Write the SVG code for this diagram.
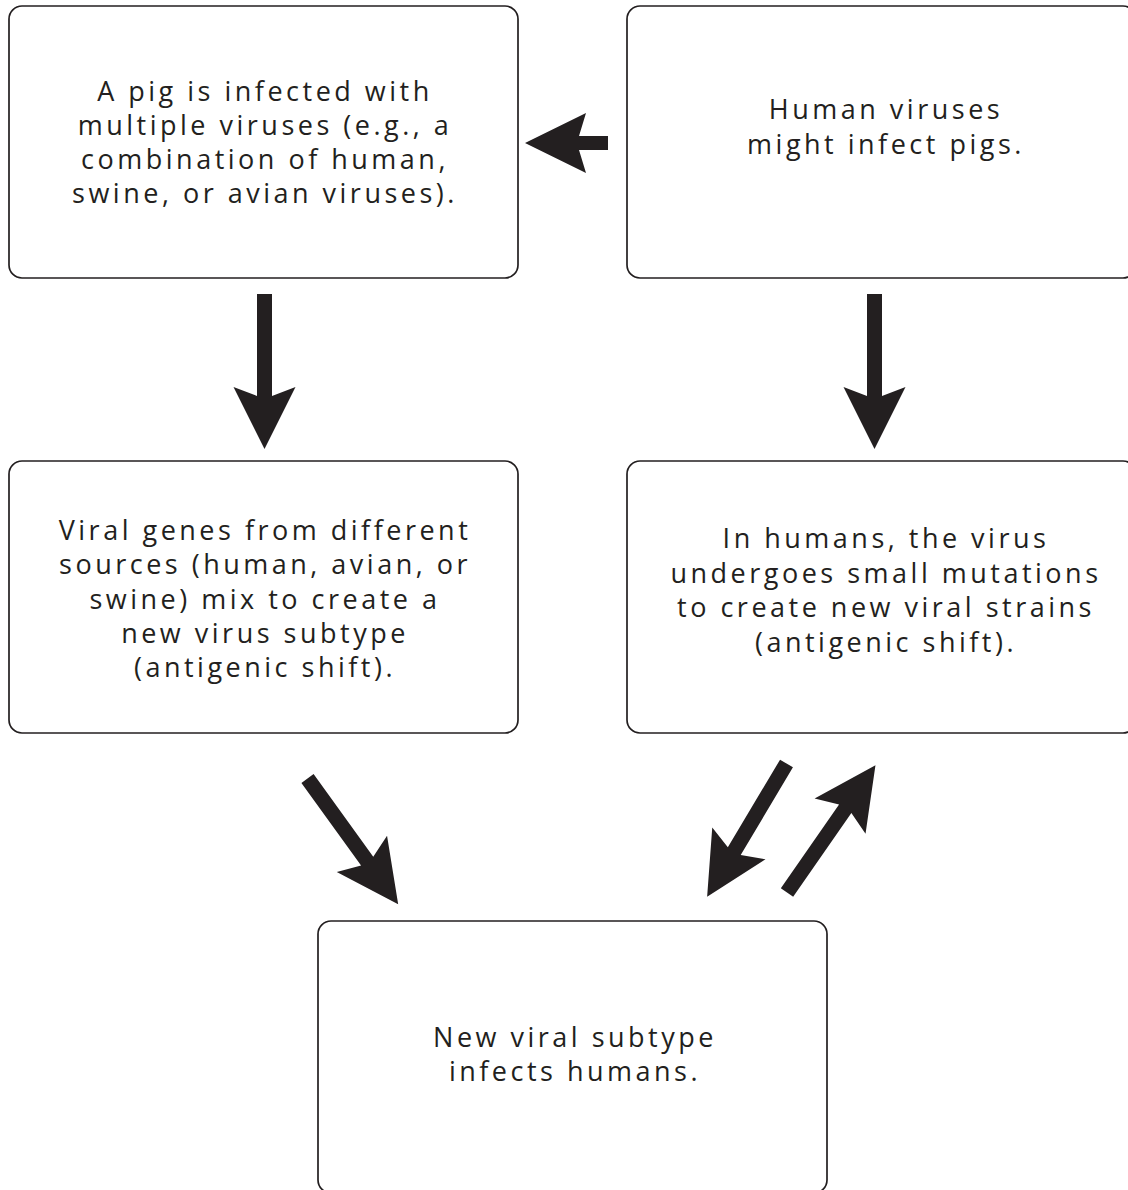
<svg xmlns="http://www.w3.org/2000/svg" xmlns:xlink="http://www.w3.org/1999/xlink" width="1128" height="1190" viewBox="0 0 1128 1190">
<style>
.box{fill:#fff;stroke:#231f20;stroke-width:1.7}
.t{font-family:"Open Sans","Noto Sans",sans-serif;font-size:27px;font-weight:500;letter-spacing:3.5px;fill:#231f20;text-anchor:middle}
.arr{fill:#231f20}
</style>
<defs>
<polygon id="arr" points="0,-7.5 102,-7.5 93,-31 155,0 93,31 102,7.5 0,7.5"/>
</defs>
<rect width="1128" height="1190" fill="#fff"/>
<g id="node-pig">
<rect class="box" x="9" y="6" width="509" height="272" rx="13"/>
<text class="t"><tspan x="265" y="101">A pig is infected with</tspan><tspan x="265" y="135">multiple viruses (e.g., a</tspan><tspan x="265" y="169">combination of human,</tspan><tspan x="265" y="203">swine, or avian viruses).</tspan></text>
</g>
<g id="node-human">
<rect class="box" x="627" y="6" width="509" height="272" rx="13"/>
<text class="t"><tspan x="886" y="119">Human viruses</tspan><tspan x="886" y="154">might infect pigs.</tspan></text>
</g>
<g id="node-genes">
<rect class="box" x="9" y="461" width="509" height="272" rx="13"/>
<text class="t"><tspan x="265" y="540">Viral genes from different</tspan><tspan x="265" y="574">sources (human, avian, or</tspan><tspan x="265" y="609">swine) mix to create a</tspan><tspan x="265" y="643">new virus subtype</tspan><tspan x="265" y="677">(antigenic shift).</tspan></text>
</g>
<g id="node-mutations">
<rect class="box" x="627" y="461" width="509" height="272" rx="13"/>
<text class="t"><tspan x="886" y="548">In humans, the virus</tspan><tspan x="886" y="583">undergoes small mutations</tspan><tspan x="886" y="617">to create new viral strains</tspan><tspan x="886" y="652">(antigenic shift).</tspan></text>
</g>
<g id="node-new">
<rect class="box" x="318" y="921" width="509" height="272" rx="13"/>
<text class="t"><tspan x="575" y="1047">New viral subtype</tspan><tspan x="575" y="1081">infects humans.</tspan></text>
</g>
<g id="connectors" class="arr">
<polygon points="608,136 579,136 586,113 525,143 586,173 579,150 608,150"/>
<use xlink:href="#arr" transform="translate(264.5,294) rotate(90)"/>
<use xlink:href="#arr" transform="translate(874.5,294) rotate(90)"/>
<use xlink:href="#arr" transform="translate(307.5,778.5) rotate(54.2)"/>
<use xlink:href="#arr" transform="translate(786.5,763.5) rotate(120.8)"/>
<use xlink:href="#arr" transform="translate(787,892.5) rotate(-55.2)"/>
</g>
</svg>
